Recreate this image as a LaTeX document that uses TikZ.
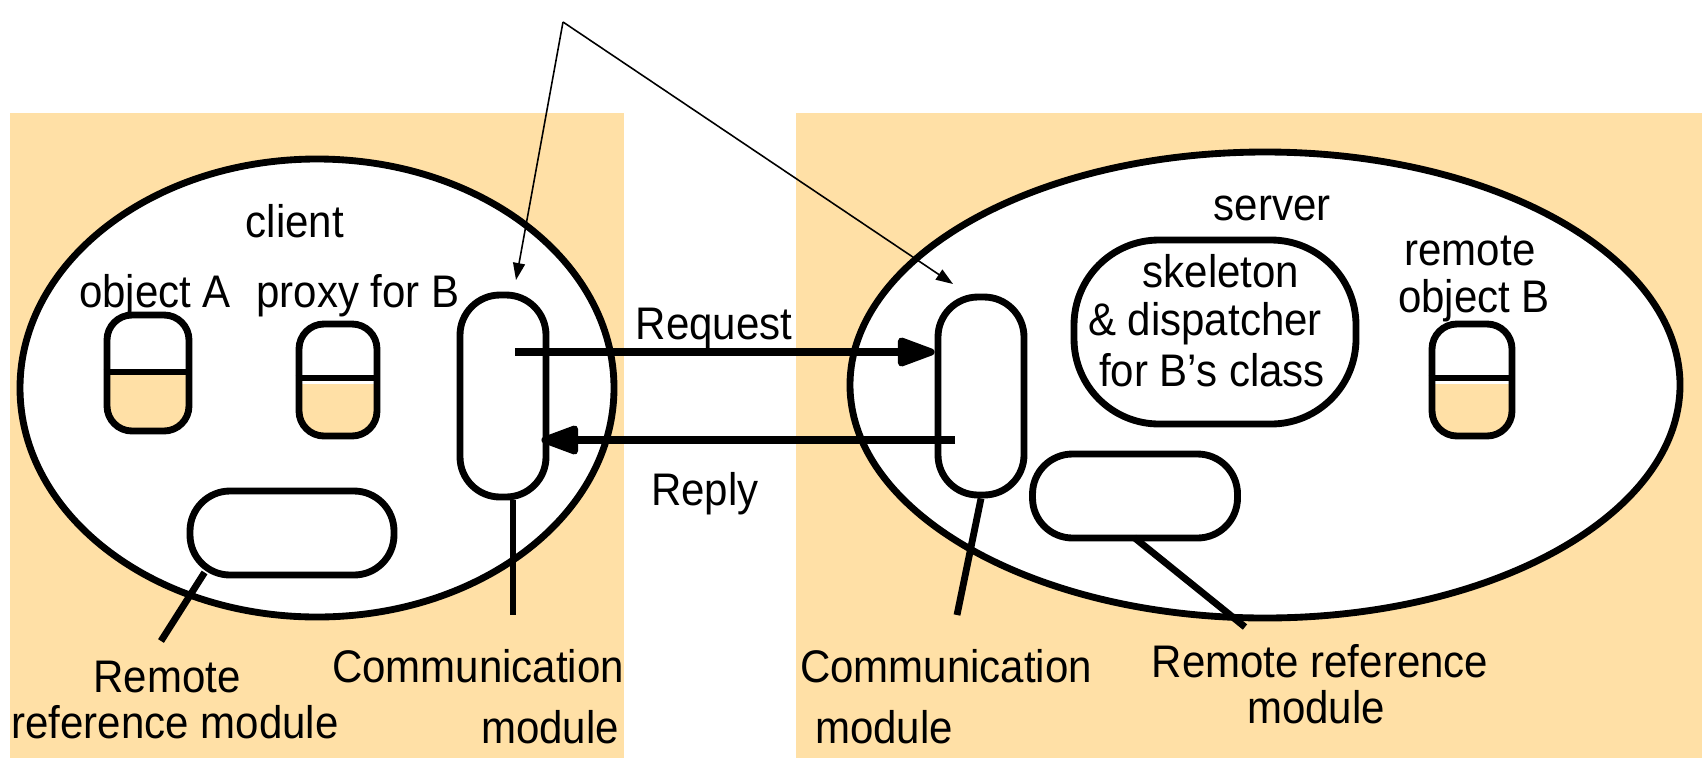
\documentclass[tikz,border=0pt]{standalone}
\usepackage{fontspec}
\setmainfont{Liberation Sans}[FakeStretch=0.92]
\usetikzlibrary{arrows.meta,calc}
\definecolor{paneltan}{RGB}{255,224,166}
\def\pxu{0.02cm}
\tikzset{
  lbl/.style={inner sep=0pt, font=\fontsize{26}{28.5}\selectfont, align=center},
  host/.style={ellipse, draw, fill=white, line width=3.9pt, inner sep=0pt},
  objbox/.style={draw, line width=3.9pt, rounded corners=25*\pxu, minimum width=80*\pxu, minimum height=112*\pxu, inner sep=0pt},
  pill/.style={draw, fill=white, line width=3.9pt, rounded corners=40*\pxu, inner sep=0pt},
  leader/.style={line width=3.9pt},
  bigarrow/.style={line width=4pt, -{Triangle[length=44*\pxu, width=30*\pxu, round]}},
  thinarrow/.style={line width=0.9pt, -{Triangle[length=17*\pxu, width=12*\pxu]}}
}
\usetikzlibrary{shapes.geometric}
\begin{document}
\begin{tikzpicture}[x=\pxu, y=-\pxu]
\useasboundingbox (0,0) rectangle (1702,758);

% process panels
\fill[paneltan] (10,113) rectangle (624,758);
\fill[paneltan] (796,113) rectangle (1702,758);

% client and server processes
\node[host, minimum width=594*\pxu, minimum height=458*\pxu] (client) at (317,388) {};
\node[host, minimum width=830*\pxu, minimum height=466*\pxu] (server) at (1265,385) {};

\node[lbl, anchor=base] (clientlbl) at (295,237) {client};
\node[lbl, anchor=base] (serverlbl) at (1272,220) {server};

% objects with their lower (data) halves shaded
\begin{scope}
  \clip[rounded corners=25*\pxu] (108,316) rectangle (188,430);
  \fill[paneltan] (108,372) rectangle (188,430);
\end{scope}
\node[objbox, minimum width=82*\pxu, minimum height=116*\pxu] (objA) at (148,373) {};
\draw[line width=3.9pt] (objA.west |- 0,372) -- (objA.east |- 0,372);

\begin{scope}
  \clip[rounded corners=25*\pxu] (300,325) rectangle (376,436);
  \fill[paneltan] (300,384) rectangle (376,436);
\end{scope}
\node[objbox, minimum width=78*\pxu, minimum height=112*\pxu] (proxy) at (338,380) {};
\draw[line width=3.9pt] (proxy.west |- 0,378) -- (proxy.east |- 0,378);

\begin{scope}
  \clip[rounded corners=25*\pxu] (1432,325) rectangle (1512,436);
  \fill[paneltan] (1432,384) rectangle (1512,436);
\end{scope}
\node[objbox, minimum width=80*\pxu, minimum height=112*\pxu] (objB) at (1472,380) {};
\draw[line width=3.9pt] (objB.west |- 0,378) -- (objB.east |- 0,378);

\node[lbl, anchor=base] (objAlbl) at (155,307) {object A};
\node[lbl, anchor=base] (proxylbl) at (358,307) {proxy for B};
\node[lbl, anchor=base] (objBlbl1) at (1470,265) {remote};
\node[lbl, anchor=base] (objBlbl2) at (1474,312) {object B};

% skeleton and dispatcher
\node[pill, rounded corners=85*\pxu, minimum width=282*\pxu, minimum height=184*\pxu] (skel) at (1215,332) {};
\node[lbl, anchor=base] (sk1) at (1221,287) {skeleton};
\node[lbl, anchor=base] (sk2) at (1205,335) {\& dispatcher};
\node[lbl, anchor=base] (sk3) at (1212,386) {for B’s class};

% communication modules
\node[pill, minimum width=86*\pxu, minimum height=202*\pxu] (commL) at (503,396) {};
\node[pill, minimum width=86*\pxu, minimum height=198*\pxu] (commR) at (981,396) {};

% remote reference modules
\node[pill, minimum width=204*\pxu, minimum height=84*\pxu] (rrmL) at (292,533) {};
\node[pill, minimum width=205*\pxu, minimum height=84*\pxu] (rrmR) at (1135,496) {};

% request / reply messages
\coordinate (reqS) at (515,352);
\coordinate (repS) at (955,440);
\draw[bigarrow] (reqS) -- (reqS -| commR.west);
\draw[bigarrow] (repS) -- ($(repS -| commL.east)+(-8,0)$);
\node[lbl, anchor=base] (reqlbl) at (714,339) {Request};
\node[lbl, anchor=base] (replbl) at (705,505) {Reply};

% leaders to the module labels
\coordinate (rrmLend) at (161,641);
\coordinate (commLend) at (513,615);
\coordinate (commRend) at (957,615);
\coordinate (rrmRend) at (1245,627);
\draw[leader] ($(rrmL.south west)+(18,-6)$) -- (rrmLend);
\draw[leader] (commL.south -| commLend) -- (commLend);
\draw[leader] (commR.south) -- (commRend);
\draw[leader] ($(rrmR.south)+(-1,-4)$) -- (rrmRend);

\node[lbl, anchor=base] (rrmLlbl1) at (167,692) {Remote};
\node[lbl, anchor=base] (rrmLlbl2) at (175,738) {reference module};
\node[lbl, anchor=base] (commLlbl1) at (478,682) {Communication};
\node[lbl, anchor=base] (commLlbl2) at (550,743) {module};
\node[lbl, anchor=base] (commRlbl1) at (946,682) {Communication};
\node[lbl, anchor=base] (commRlbl2) at (884,743) {module};
\node[lbl, anchor=base] (rrmRlbl1) at (1320,677) {Remote reference};
\node[lbl, anchor=base] (rrmRlbl2) at (1316,723) {module};

% pointers to both communication modules
\coordinate (apex) at (563,22);
\coordinate (ptrL) at (516,280);
\coordinate (ptrR) at (953,284);
\draw[thinarrow] (apex) -- (ptrL);
\draw[thinarrow] (apex) -- (ptrR);
\end{tikzpicture}
\end{document}
